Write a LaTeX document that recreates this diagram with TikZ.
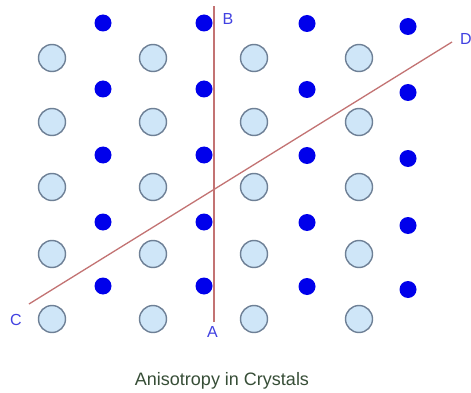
\documentclass[tikz,border=0pt]{standalone}
\usepackage{fontspec}
\setmainfont{Liberation Sans}
\definecolor{atomfill}{RGB}{207,230,248}
\definecolor{atomline}{RGB}{110,128,150}
\definecolor{ionblue}{RGB}{0,0,235}
\definecolor{axisred}{RGB}{195,115,115}
\definecolor{labelblue}{RGB}{65,65,225}
\definecolor{captiongreen}{RGB}{55,78,55}
\begin{document}
\begin{tikzpicture}[x=1pt,y=-1pt,
  bigatom/.style={circle,draw=atomline,fill=atomfill,line width=1.4pt,minimum size=27pt,inner sep=0pt},
  smallatom/.style={circle,fill=ionblue,minimum size=17pt,inner sep=0pt},
  axisline/.style={draw=axisred,line width=1.3pt},
  axislabel/.style={text=labelblue,font=\fontsize{16}{16}\selectfont,inner sep=0pt},
  caption/.style={text=captiongreen,font=\fontsize{18}{18}\selectfont,inner sep=0pt}]
\useasboundingbox[fill=white] (0,0) rectangle (471,393);
% large atoms
\foreach \c/\x in {1/52,2/153,3/254,4/359}{
  \foreach \r/\y in {1/58,2/122,3/187,4/254,5/319}{
    \node[bigatom] (L\c\r) at (\x,\y) {};
  }
}
% small atoms
\foreach \c/\x/\o in {1/103/0,2/204/0,3/307/0.5,4/408/3.5}{
  \foreach \r/\y in {1/23,2/89,3/155,4/222,5/286}{
    \node[smallatom] (S\c\r) at (\x,\y+\o) {};
  }
}
% axes
\coordinate (A) at (214,322);
\coordinate (B) at (214,6);
\coordinate (C) at (29,304);
\coordinate (D) at (452,42);
\draw[axisline] (A) -- (B);
\draw[axisline] (C) -- (D);
\node[axislabel] (lA) at (212.5,331.5) {A};
\node[axislabel] (lB) at (228,18.5) {B};
\node[axislabel] (lC) at (16,319.5) {C};
\node[axislabel] (lD) at (466,38.5) {D};
\node[caption,anchor=base] (cap) at (222,385) {Anisotropy in Crystals};
\end{tikzpicture}
\end{document}
